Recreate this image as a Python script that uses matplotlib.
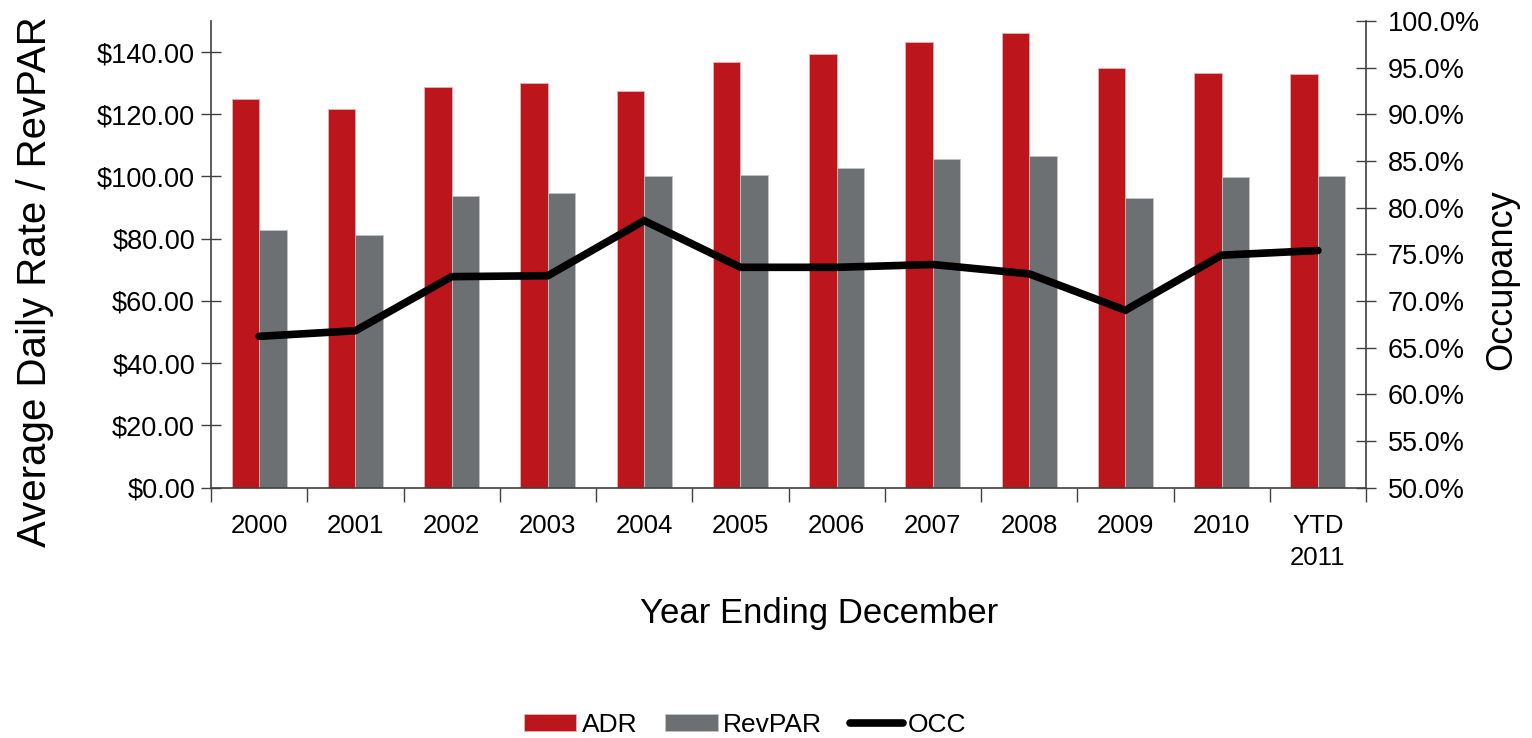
import numpy as np
import matplotlib.pyplot as plt
from matplotlib.ticker import FuncFormatter, FixedLocator

# hotel performance by year
years = ["2000", "2001", "2002", "2003", "2004", "2005", "2006",
         "2007", "2008", "2009", "2010", "YTD\n2011"]
adr = [125.0, 121.6, 128.8, 130.1, 127.6, 136.7, 139.5,
       143.1, 146.2, 134.9, 133.2, 132.9]
revpar = [82.7, 81.2, 93.7, 94.6, 100.2, 100.6, 102.8,
          105.6, 106.5, 93.2, 99.7, 100.2]
occ = [66.2, 66.8, 72.6, 72.7, 78.6, 73.6, 73.6,
       73.9, 72.9, 69.0, 74.9, 75.4]

red = "#BD151C"
grey = "#6D7073"
axcol = "#404040"

plt.rcParams["font.family"] = ["Liberation Sans", "DejaVu Sans"]

fig = plt.figure(figsize=(15.32, 7.38), dpi=100)
ax = fig.add_axes([211/1532, 1 - 487.5/738, (1366-211)/1532, (487.5-21)/738])

x = np.arange(len(years))
w = 0.286
b1 = ax.bar(x - w/2, adr, w, color=red, edgecolor="#e8b0b3", linewidth=0.6, label="ADR")
b2 = ax.bar(x + w/2, revpar, w, color=grey, edgecolor="#c0c2c4", linewidth=0.6, label="RevPAR")

ax.set_xlim(-0.5, len(years) - 0.5)
ax.set_ylim(0, 150)
ax.set_yticks(np.arange(0, 141, 20))
ax.yaxis.set_major_formatter(FuncFormatter(lambda v, p: f"${v:,.2f}"))
ax.set_xticks(x)
ax.set_xticklabels(years, fontsize=18.5, va="top", linespacing=1.45)
ax.xaxis.set_minor_locator(FixedLocator(np.arange(-0.5, len(years), 1.0)))
ax.tick_params(axis="x", which="major", length=0, pad=19)
ax.tick_params(axis="x", which="minor", length=10, direction="out", width=1, color=axcol)
ax.tick_params(axis="y", length=15, direction="inout", width=1, color=axcol,
               labelsize=19.5, pad=4)

for s in ["top", "right"]:
    ax.spines[s].set_visible(False)
for s in ["left", "bottom"]:
    ax.spines[s].set_color(axcol)
    ax.spines[s].set_linewidth(1.2)

ax2 = ax.twinx()
ln, = ax2.plot(x, occ, color="black", linewidth=5.5, solid_capstyle="round",
               solid_joinstyle="miter", label="OCC")
ax2.set_ylim(50, 100)
ax2.set_yticks(np.arange(50, 100.1, 5))
ax2.yaxis.set_major_formatter(FuncFormatter(lambda v, p: f"{v:.1f}%"))
ax2.tick_params(axis="y", length=15, direction="inout", width=1, color=axcol,
                labelsize=19.5, pad=8)
for s in ["top", "left", "bottom"]:
    ax2.spines[s].set_visible(False)
ax2.spines["right"].set_color(axcol)
ax2.spines["right"].set_linewidth(1.2)

fig.text(35/1532, 1 - 282/738, "Average Daily Rate / RevPAR", rotation=90,
         ha="center", va="center", fontsize=29)
fig.text(1502/1532, 1 - 280/738, "Occupancy", rotation=90,
         ha="center", va="center", fontsize=26)
fig.text(819/1532, 1 - 613/738, "Year Ending December",
         ha="center", va="center", fontsize=25)

fig.legend(handles=[b1, b2, ln], loc="center", bbox_to_anchor=(745/1532, 1 - 725/738),
           ncol=3, frameon=False, fontsize=19, handlelength=2.0, handleheight=0.6,
           handletextpad=0.2, columnspacing=1.05, borderaxespad=0)

fig.savefig("out.png", dpi=100)
